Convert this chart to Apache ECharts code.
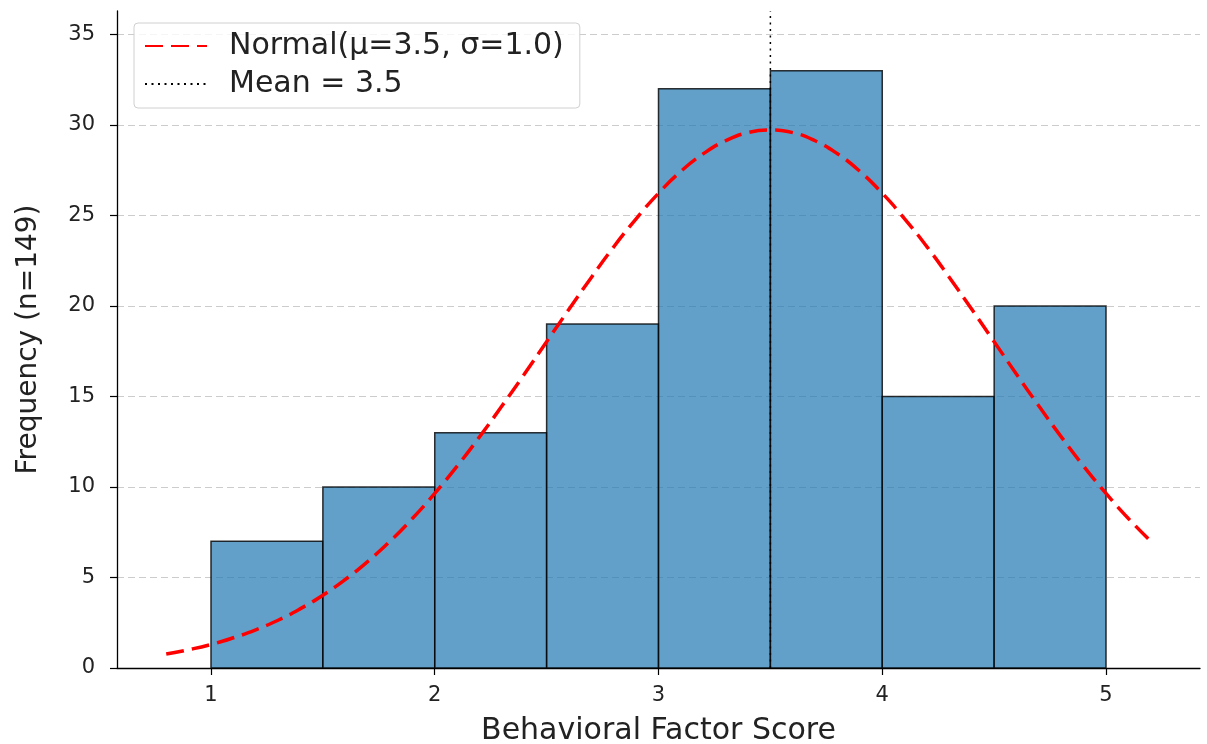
<!DOCTYPE html>
<html>
<head>
<meta charset="utf-8">
<script src="https://cdn.jsdelivr.net/npm/echarts@6/dist/echarts.min.js"></script>
<style>
  html, body { margin: 0; padding: 0; background: #fff; }
  #chart { width: 1207px; height: 744px; }
</style>
</head>
<body>
<div id="chart"></div>
<script>
// histogram bins (width 0.5)
var binStarts = [1.0, 1.5, 2.0, 2.5, 3.0, 3.5, 4.0, 4.5];
var binWidth = 0.5;
var binCounts = [7, 10, 13, 19, 32, 33, 15, 20];

// fitted normal curve
var curveX = [0.8, 0.9, 1.0, 1.1, 1.2, 1.3, 1.4, 1.5, 1.6, 1.7, 1.8, 1.9, 2.0, 2.1, 2.2, 2.3, 2.4, 2.5, 2.6, 2.7, 2.8, 2.9, 3.0,
              3.1, 3.2, 3.3, 3.4, 3.5, 3.6, 3.7, 3.8, 3.9, 4.0, 4.1, 4.2, 4.3, 4.4, 4.5, 4.6, 4.7, 4.8, 4.9, 5.0, 5.1, 5.2];
var curveY = [0.77, 1.01, 1.30, 1.67, 2.11, 2.64, 3.28, 4.02, 4.89, 5.88, 7.00, 8.26, 9.65, 11.15, 12.77, 14.47, 16.23, 18.03, 19.82, 21.58, 23.27, 24.82, 26.23,
              27.44, 28.41, 29.13, 29.58, 29.72, 29.58, 29.13, 28.41, 27.44, 26.23, 24.82, 23.27, 21.58, 19.82, 18.03, 16.23, 14.47, 12.77, 11.15, 9.65, 8.26, 7.00];

var meanValue = 3.5;
var yTop = 36.3;
var yTicks = [0, 5, 10, 15, 20, 25, 30, 35];
var xTicks = [1, 2, 3, 4, 5];

var chart = echarts.init(document.getElementById('chart'));

var histData = [];
for (var i = 0; i < binStarts.length; i++) {
	histData.push([binStarts[i], binStarts[i] + binWidth, binCounts[i]]);
}
var curveData = [];
for (var j = 0; j < curveX.length; j++) {
	curveData.push([curveX[j], curveY[j]]);
}

var option = {
	animation: false,
	backgroundColor: '#fff',
	textStyle: { fontFamily: 'DejaVu Sans' },
	grid: { left: 117, right: 7, top: 11, bottom: 76, outerBoundsMode: 'none' },
	legend: {
		orient: 'vertical',
		left: 134,
		top: 23,
		itemWidth: 62,
		itemHeight: 14,
		itemGap: 8,
		padding: [8, 16, 9, 10],
		borderColor: '#d0d0d0',
		borderWidth: 1,
		borderRadius: 4,
		backgroundColor: 'rgba(255,255,255,0.8)',
		itemStyle: { opacity: 0 },
		textStyle: { fontSize: 30, color: '#222', fontFamily: 'DejaVu Sans', padding: [0, 0, 0, 17] },
		data: ['Normal(μ=3.5, σ=1.0)', 'Mean = 3.5']
	},
	xAxis: {
		type: 'value',
		min: 0.58,
		max: 5.42,
		interval: 1,
		name: 'Behavioral Factor Score',
		nameLocation: 'middle',
		nameGap: 48,
		nameTextStyle: { fontSize: 30, color: '#222' },
		axisLine: { show: true, lineStyle: { color: '#000', width: 1.3 } },
		axisTick: { show: true, length: 7, lineStyle: { color: '#000', width: 1.2 }, customValues: xTicks },
		axisLabel: { fontSize: 21, color: '#222', margin: 17, customValues: xTicks },
		splitLine: { show: false }
	},
	yAxis: {
		type: 'value',
		min: 0,
		max: yTop,
		interval: 5,
		name: 'Frequency (n=149)',
		nameLocation: 'middle',
		nameGap: 74,
		nameTextStyle: { fontSize: 28, color: '#222' },
		axisLine: { show: true, lineStyle: { color: '#000', width: 1.3 } },
		axisTick: { show: true, length: 7, lineStyle: { color: '#000', width: 1.2 }, customValues: yTicks },
		axisLabel: { fontSize: 21, color: '#222', margin: 22, customValues: yTicks },
		splitLine: { show: true, lineStyle: { color: '#cccccc', type: [7, 4], width: 1 } }
	},
	series: [
		{
			name: 'Histogram',
			type: 'custom',
			z: 2,
			renderItem: function (params, api) {
				var p0 = api.coord([api.value(0), 0]);
				var p1 = api.coord([api.value(1), api.value(2)]);
				return {
					type: 'rect',
					shape: { x: p0[0], y: p1[1], width: p1[0] - p0[0], height: p0[1] - p1[1] },
					style: { fill: 'rgba(31,119,180,0.7)', stroke: 'rgba(0,0,0,0.8)', lineWidth: 1.5 }
				};
			},
			encode: { x: [0, 1], y: 2 },
			data: histData
		},
		{
			name: 'Normal(μ=3.5, σ=1.0)',
			type: 'line',
			z: 4,
			smooth: true,
			symbol: 'none',
			lineStyle: { color: '#ff0000', width: 3.5, type: [18, 8] },
			itemStyle: { color: '#ff0000' },
			data: curveData
		},
		{
			name: 'Mean = 3.5',
			type: 'line',
			z: 3,
			symbol: 'none',
			lineStyle: { color: '#000', width: 1.5, type: [2, 4.5] },
			itemStyle: { color: '#000' },
			data: [[meanValue, 0], [meanValue, yTop]]
		}
	]
};
chart.setOption(option);
</script>
</body>
</html>
